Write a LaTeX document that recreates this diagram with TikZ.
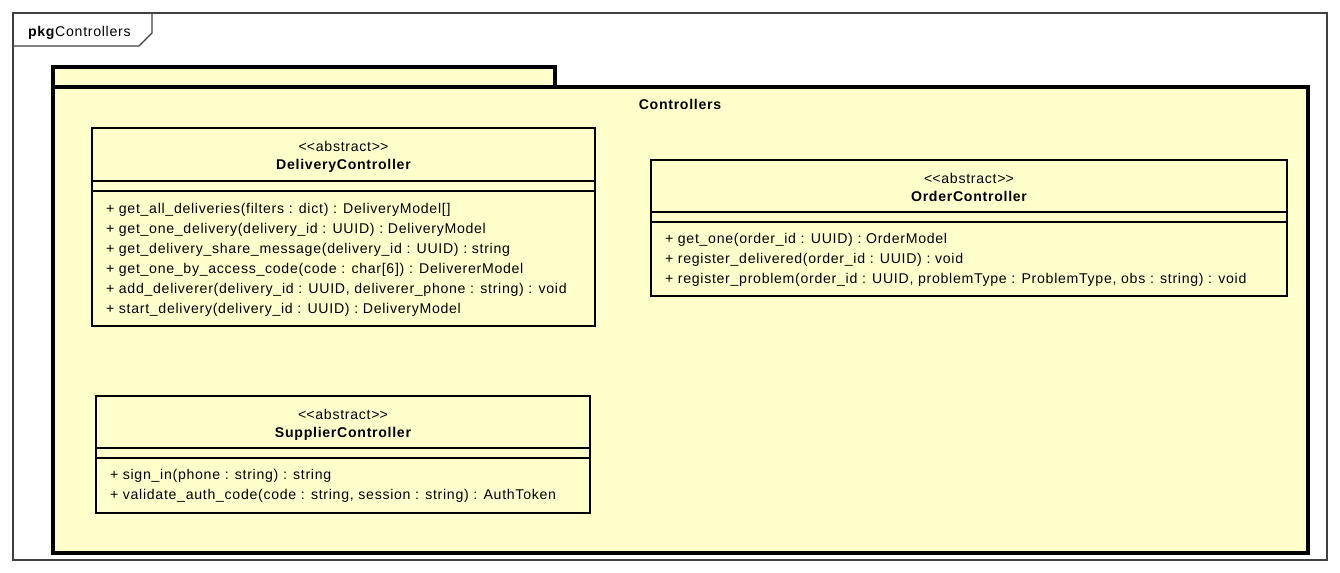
\documentclass[tikz,border=0pt]{standalone}
\usepackage{fontspec}
\setmainfont{Liberation Sans}[LetterSpace=5]
\definecolor{umlyellow}{HTML}{FFFFCC}
\definecolor{framegray}{HTML}{404040}
\newcommand{\stereo}[1]{<\kern0pt<#1>\kern0pt>}
\begin{document}
\begin{tikzpicture}[x=0.75pt,y=-0.75pt,
  every node/.style={inner sep=0pt, outer sep=0pt, font=\fontsize{10.6}{12}\selectfont},
  framebox/.style={draw=framegray, line width=0.8pt},
  pkgshape/.style={fill=umlyellow, draw=black, line width=2.3pt},
  classbox/.style={fill=umlyellow, draw=black, line width=2.2pt},
  sepline/.style={draw=black, line width=0.8pt},
  stereotext/.style={anchor=base},
  nametext/.style={anchor=base, font=\fontsize{10.6}{12}\selectfont\bfseries},
  optext/.style={anchor=base west},
]
% canvas
\fill[white] (0,0) rectangle (1340,573);
\useasboundingbox (0,0) rectangle (1340,573);

% diagram frame with its name tab
\draw[framebox] (13,13) rectangle (1327,560);
\draw[framebox] (13,46) -- (139,46) -- (152,33) -- (152,13);
\node[anchor=base west] (frametitle) at (28,37) {\textbf{pkg}Controllers};

% package Controllers
\draw[pkgshape] (53,67) rectangle (555,87);
\draw[pkgshape] (53,87) rectangle (1308,553);
\node[nametext] (pkgtitle) at (680,110) {Controllers};

% DeliveryController
\draw[classbox] (92,128) rectangle (595,326);
\draw[sepline] (92,181) -- (595,181);
\draw[sepline] (92,191) -- (595,191);
\node[stereotext] (dcst) at (343.5,152) {\stereo{abstract}};
\node[nametext] (dcname) at (343.5,170) {DeliveryController};
\node[optext] (dcop1) at (106,214) {+ get\_all\_deliveries(filters : dict) : DeliveryModel[]};
\node[optext] (dcop2) at (106,234) {+ get\_one\_delivery(delivery\_id : UUID) : DeliveryModel};
\node[optext] (dcop3) at (106,254) {+ get\_delivery\_share\_message(delivery\_id : UUID) : string};
\node[optext] (dcop4) at (106,274) {+ get\_one\_by\_access\_code(code : char[6]) : DelivererModel};
\node[optext] (dcop5) at (106,294) {+ add\_deliverer(delivery\_id : UUID, deliverer\_phone : string) : void};
\node[optext] (dcop6) at (106,314) {+ start\_delivery(delivery\_id : UUID) : DeliveryModel};

% OrderController
\draw[classbox] (651,160) rectangle (1287,296);
\draw[sepline] (651,212) -- (1287,212);
\draw[sepline] (651,222) -- (1287,222);
\node[stereotext] (ocst) at (969,184) {\stereo{abstract}};
\node[nametext] (ocname) at (969,202) {OrderController};
\node[optext] (ocop1) at (665,244) {+ get\_one(order\_id : UUID) : OrderModel};
\node[optext] (ocop2) at (665,264) {+ register\_delivered(order\_id : UUID) : void};
\node[optext] (ocop3) at (665,284) {+ register\_problem(order\_id : UUID, problemType : ProblemType, obs : string) : void};

% SupplierController
\draw[classbox] (96,396) rectangle (590,513);
\draw[sepline] (96,448) -- (590,448);
\draw[sepline] (96,458) -- (590,458);
\node[stereotext] (scst) at (343,420) {\stereo{abstract}};
\node[nametext] (scname) at (343,438) {SupplierController};
\node[optext] (scop1) at (110,480) {+ sign\_in(phone : string) : string};
\node[optext] (scop2) at (110,500) {+ validate\_auth\_code(code : string, session : string) : AuthToken};
\end{tikzpicture}
\end{document}
